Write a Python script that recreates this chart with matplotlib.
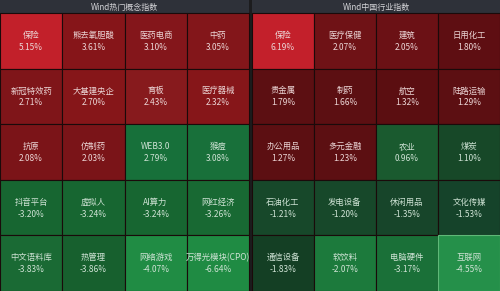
import matplotlib
matplotlib.use("Agg")
import matplotlib.pyplot as plt
from matplotlib.patches import Rectangle

plt.rcParams['font.family'] = ['Noto Sans CJK SC', 'DejaVu Sans']

# Data
titles = ['Wind热门概念指数', 'Wind中国行业指数']

left_names = ['保险', '熊去氧胆酸', '医药电商', '中药',
              '新冠特效药', '大基建央企', '育板', '医疗器械',
              '抗原', '仿制药', 'WEB3.0', '猴痘',
              '抖音平台', '虚拟人', 'AI算力', '网红经济',
              '中文语料库', '热管理', '网络游戏', '万得光模块(CPO)']
left_values = ['5.15%', '3.61%', '3.10%', '3.05%',
               '2.71%', '2.70%', '2.43%', '2.32%',
               '2.08%', '2.03%', '2.79%', '3.08%',
               '-3.20%', '-3.24%', '-3.24%', '-3.26%',
               '-3.83%', '-3.86%', '-4.07%', '-6.64%']

right_names = ['保险', '医疗保健', '建筑', '日用化工',
               '贵金属', '制药', '航空', '陆路运输',
               '办公用品', '多元金融', '农业', '煤炭',
               '石油化工', '发电设备', '休闲用品', '文化传媒',
               '通信设备', '软饮料', '电脑硬件', '互联网']
right_values = ['6.19%', '2.07%', '2.05%', '1.80%',
                '1.79%', '1.66%', '1.32%', '1.29%',
                '1.27%', '1.23%', '0.96%', '1.10%',
                '-1.21%', '-1.20%', '-1.35%', '-1.53%',
                '-1.83%', '-2.07%', '-3.17%', '-4.55%']

# cell fill colours (style)
left_colors = ['#c2202a', '#861519', '#84161b', '#83161a',
               '#7f1519', '#861619', '#871a1d', '#861619',
               '#7b1418', '#7a1418', '#17703a', '#18703a',
               '#176631', '#176631', '#176631', '#186933',
               '#1a6a34', '#17602e', '#208c44', '#1f8b43']
right_colors = ['#c3202b', '#6f1216', '#6b1115', '#5e0e12',
                '#5c0f12', '#5c0f12', '#5b0e11', '#5c0f12',
                '#5c0f12', '#5c0f12', '#1a5a2f', '#174828',
                '#17482a', '#17482a', '#17452a', '#15432a',
                '#143f24', '#1c7a3c', '#1a7038', '#25904a']

W, H = 500, 291
fig = plt.figure(figsize=(5.0, 2.91), dpi=100)
fig.patch.set_facecolor('#1c1c1e')
ax = fig.add_axes([0, 0, 1, 1])
ax.set_xlim(0, W)
ax.set_ylim(H, 0)
ax.axis('off')

header_h = 13
n_rows, n_cols = 5, 4
row_h = (H - header_h) / n_rows
panels = [(0, 249), (252, 500)]

for (x0, x1), title, names, vals, cols in zip(
        panels, titles, [left_names, right_names],
        [left_values, right_values], [left_colors, right_colors]):
    ax.add_patch(Rectangle((x0, 0), x1 - x0, header_h, facecolor='#2e3139',
                           edgecolor='none'))
    ax.text((x0 + x1) / 2, header_h / 2 + 0.5, title, color='#d4d4d8',
            fontsize=5.8, ha='center', va='center')
    cw = (x1 - x0) / n_cols
    for i in range(n_rows * n_cols):
        r, c = divmod(i, n_cols)
        cx = x0 + c * cw
        cy = header_h + r * row_h
        ec = '#5fb878' if i == n_rows * n_cols - 1 and x0 > 0 else '#1a0a0a'
        ax.add_patch(Rectangle((cx, cy), cw, row_h, facecolor=cols[i],
                               edgecolor=ec, linewidth=0.8))
        green = vals[i].startswith('-') or cols[i].startswith('#1') or cols[i].startswith('#2')
        tc = '#cfe3d5' if green else '#ecd6d6'
        ax.text(cx + cw / 2, cy + row_h / 2 - 5.5, names[i], color=tc,
                fontsize=6, ha='center', va='center')
        ax.text(cx + cw / 2, cy + row_h / 2 + 6.5, vals[i], color=tc,
                fontsize=6, ha='center', va='center')

fig.savefig('out.png', dpi=100, facecolor=fig.get_facecolor())
